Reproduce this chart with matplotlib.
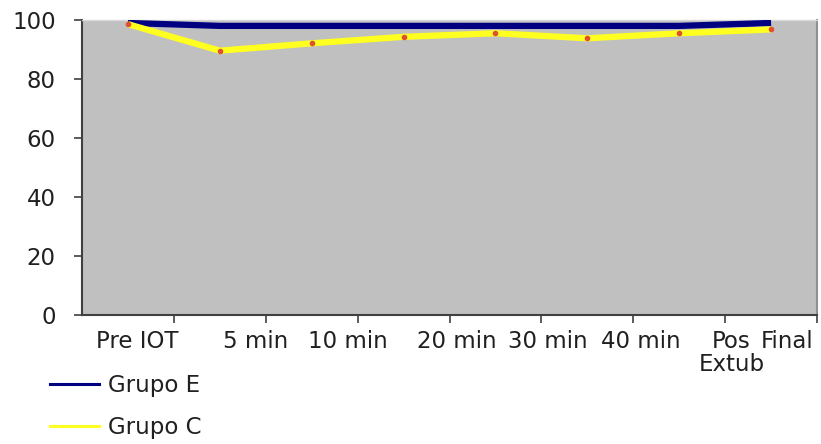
import matplotlib
matplotlib.use("Agg")
import matplotlib.pyplot as plt
from matplotlib.lines import Line2D
from matplotlib.ticker import FixedLocator, NullFormatter, FixedFormatter

categories = ["Pre IOT", "5 min", "10 min", "20 min", "30 min", "40 min", "Pos\nExtub", "Final"]
grupo_e = [99, 98, 98, 98, 98, 98, 98, 99]
grupo_c = [98.6, 89.6, 92.1, 94.3, 95.5, 93.8, 95.5, 96.8]
yticks = [0, 20, 40, 60, 80, 100]

# label positions (Excel-style offset labels), in category units
label_pos = [0.10, 1.39, 2.39, 3.58, 4.57, 5.58, 6.57, 7.17]

plt.rcParams['font.family'] = ['DejaVu Sans']
fs = 16.5

fig = plt.figure(figsize=(8.21, 4.44), dpi=100)
ax = fig.add_axes([82/821, 1-315/444, (817-82)/821, (315-20)/444])
ax.set_facecolor("#C0C0C0")

x = list(range(len(categories)))
ax.plot(x, grupo_e, color="#000080", lw=4.5, solid_capstyle="butt", zorder=3)
ax.plot(x, grupo_c, color="#FFFF20", lw=4.5, solid_capstyle="butt", zorder=4,
        marker="o", markersize=3, markerfacecolor="#E05030", markeredgecolor="#E05030")

ax.set_xlim(-0.5, len(categories) - 0.5)
ax.set_ylim(0, 100)
ax.set_yticks(yticks)
ax.set_yticklabels([str(v) for v in yticks], fontsize=fs, color="#202020")

ax.xaxis.set_major_locator(FixedLocator([i + 0.5 for i in range(len(categories))]))
ax.xaxis.set_major_formatter(NullFormatter())
ax.xaxis.set_minor_locator(FixedLocator(label_pos))
ax.xaxis.set_minor_formatter(FixedFormatter(categories))
ax.tick_params(axis='x', which='minor', length=0, pad=11, labelsize=fs, labelcolor="#202020")
ax.tick_params(axis='x', which='major', length=6, width=1.2, color="#404040", direction='out')
ax.tick_params(axis='y', length=6, width=1.2, color="#404040", pad=13)
for lbl in ax.xaxis.get_minorticklabels():
    lbl.set_linespacing(1.0)

for s in ["left", "bottom"]:
    ax.spines[s].set_color("#404040")
    ax.spines[s].set_linewidth(1.5)
ax.spines["right"].set_color("#909090")
ax.spines["right"].set_linewidth(1.5)
ax.spines["top"].set_color("#D8D8D8")
ax.spines["top"].set_linewidth(1.0)

handles = [Line2D([0], [0], color="#000080", lw=2.2),
           Line2D([0], [0], color="#FFFF20", lw=2.2)]
fig.legend(handles, ["Grupo E", "Grupo C"], loc="upper left",
           bbox_to_anchor=(50/821, 1-374/444), frameon=False, fontsize=fs,
           handlelength=2.15, handletextpad=0.4, labelspacing=0.85, borderpad=0,
           borderaxespad=0, labelcolor="#202020")

fig.savefig("out.png", dpi=100)
